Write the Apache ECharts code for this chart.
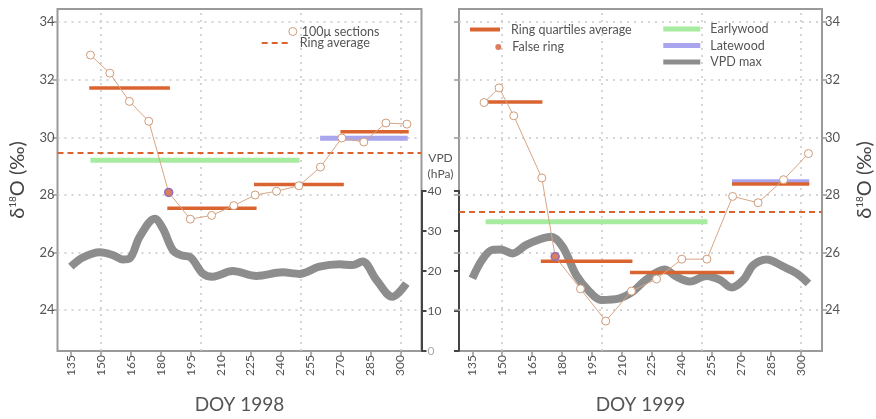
<!DOCTYPE html>
<html lang="en">
<head>
<meta charset="UTF-8">
<title>δ18O and VPD 1998-1999</title>
<script src="https://cdn.jsdelivr.net/npm/echarts@6.0.0/dist/echarts.min.js"></script>
<style>body{margin:0;background:#fff}</style>
</head>
<body>
<div id="main" style="width: 876px;height: 419px"></div>
<script type="text/javascript">
// 100u sections [DOY, d18O]
var sections98 = [[144.8,32.86],[154.5,32.23],[164.3,31.25],[174.0,30.56],[184.0,28.09],[194.8,27.16],[205.5,27.29],[216.6,27.63],
  [227.3,28.00],[238.0,28.13],[249.2,28.32],[260.0,28.97],[270.7,29.98],[281.7,29.84],[292.8,30.50],[303.3,30.46]];
var sections99 = [[140.9,31.21],[148.4,31.72],[155.8,30.75],[169.9,28.59],[176.6,25.86],[189.3,24.74],[202.0,23.62],[214.9,24.66],
  [227.5,25.08],[240.2,25.77],[252.8,25.77],[265.7,27.95],[278.5,27.73],[291.3,28.53],[303.8,29.44]];
var falseRing98 = [[184.0,28.09]];
var falseRing99 = [[176.6,25.86]];
var ringAvg98 = 29.45;
var ringAvg99 = 27.43;
// [from DOY, to DOY, value]
var quart98 = [[144.2,184.6,31.72],[183.3,228.0,27.54],[226.7,271.7,28.36],[270.0,304.2,30.20]];
var quart99 = [[141.2,170.2,31.23],[169.4,215.4,25.70],[214.2,266.5,25.31],[265.4,304.2,28.38]];
var early98 = [[144.8,249.5,29.21]];
var late98 = [[259.8,303.7,29.97]];
var early99 = [[141.7,253.1,27.07]];
var late99 = [[265.4,304.2,28.46]];
// VPD max [DOY, hPa]
var vpd98 = [[135,21.0],[141,23.3],[149.5,24.6],[156,23.9],[161,22.8],[164.5,23.1],[169.5,28.5],[177,33.0],[181,30.6],[186,25.2],
  [190,23.9],[195,23.3],[201,19.3],[206,18.5],[216,19.9],[228,18.7],[241,19.6],[249.5,19.2],[259.5,21.0],[269.5,21.6],[276,21.4],
  [281,22.3],[288,17.7],[296,13.5],[303,16.8]];
var vpd99 = [[135,18.1],[140,22.8],[145,25.2],[149.3,25.3],[155,24.3],[161.8,26.4],[168.5,27.8],[174.4,28.5],[180.2,26.0],[187,18.9],
  [193.6,14.8],[199.5,12.7],[208.7,13.1],[215.4,14.8],[222.1,17.8],[231.3,20.3],[237.2,18.5],[243.9,17.3],[252.3,18.7],[259,17.7],
  [264.8,15.8],[270.7,17.7],[275.7,21.4],[282.4,22.8],[290.8,21.0],[297.5,19.3],[303.3,16.8]];
var doyTicks = [135,150,165,180,195,210,225,240,255,270,285,300];
var doyGrid = [150,200,250,300];
var d18Ticks = [24,26,28,30,32,34];

var ORANGE = '#da6430', GREEN = '#a6eba0', PURPLE = '#a9a5ee', GRAY = '#8d8d8d', TAN = '#d6a585';

var myChart = echarts.init(document.getElementById('main'));

function segSeries(name, segs, gi, color, width, z) {
  return segs.map(function (s) {
    return {
      name: name, type: 'line', xAxisIndex: gi, yAxisIndex: gi, z: z, symbol: 'none', silent: true,
      lineStyle: {color: color, width: width, cap: 'butt'}, itemStyle: {color: color},
      data: [[s[0], s[2]], [s[1], s[2]]]
    };
  });
}

function gridLines(gi) {
  var d = doyGrid.map(function (v) { return {xAxis: v}; })
    .concat(d18Ticks.map(function (v) { return {yAxis: v}; }));
  return {
    type: 'line', xAxisIndex: gi, yAxisIndex: gi, data: [], silent: true, z: 0,
    markLine: {
      z: 1, silent: true, symbol: ['none', 'none'], label: {show: false}, animation: false,
      lineStyle: {color: '#c8c8c8', width: 1.5, type: [2, 5]}, data: d
    }
  };
}

function panel(gi, vi, sections, falseRing, ringAvg, quart, early, late, vpd) {
  var s = [gridLines(gi),
    {
      name: 'VPD max', type: 'line', xAxisIndex: vi, yAxisIndex: vi, z: 2, smooth: 0.35, symbol: 'none', silent: true,
      lineStyle: {color: GRAY, width: 8}, itemStyle: {color: GRAY}, data: vpd
    }];
  s = s.concat(segSeries('Earlywood', early, gi, GREEN, 5, 3));
  s = s.concat(segSeries('Latewood', late, gi, PURPLE, 5, 3));
  s = s.concat(segSeries('Ring quartiles average', quart, gi, ORANGE, 3.5, 4));
  s.push({
    name: 'Ring average', type: 'line', xAxisIndex: gi, yAxisIndex: gi, data: [], symbol: 'none', z: 4,
    lineStyle: {color: ORANGE, width: 2, type: [6, 4]}, itemStyle: {color: ORANGE},
    markLine: {
      silent: true, symbol: ['none', 'none'], label: {show: false}, animation: false,
      lineStyle: {color: ORANGE, width: 2, type: [6, 4]}, data: [{yAxis: ringAvg}]
    }
  });
  s.push({
    name: '100μ sections', type: 'line', xAxisIndex: gi, yAxisIndex: gi, z: 5, symbol: 'circle', symbolSize: 8,
    lineStyle: {color: TAN, width: 1}, itemStyle: {color: '#fff', borderColor: '#cf9b78', borderWidth: 1},
    data: sections
  });
  s.push({
    name: 'False ring', type: 'scatter', xAxisIndex: gi, yAxisIndex: gi, z: 6, symbolSize: 8,
    itemStyle: {color: '#d25c3a', borderColor: '#7d6bd2', borderWidth: 1.5}, data: falseRing
  });
  return s;
}

function xAx(gi, name) {
  return {
    type: 'value', gridIndex: gi, min: 128.3, max: 310.6, name: name, nameLocation: 'middle', nameGap: 44,
    nameTextStyle: {fontSize: 19, color: '#555'},
    axisLine: {show: false}, splitLine: {show: false},
    axisTick: {customValues: doyTicks, length: 5, lineStyle: {color: '#999', width: 1.5}},
    axisLabel: {customValues: doyTicks, rotate: 90, fontSize: 12, color: '#555', margin: 4}
  };
}
function hiddenX(gi) {
  return {type: 'value', gridIndex: gi, min: 128.3, max: 310.6, show: false};
}
var d18Name = '{d|δ}{s|18}{o|O (‰)}';
var d18Rich = {
  d: {fontSize: 20, color: '#444'},
  s: {fontSize: 10, color: '#444', verticalAlign: 'top'},
  o: {fontSize: 20, color: '#444'}
};
function d18Ax(gi, pos, labels) {
  return {
    type: 'value', gridIndex: gi, min: 22.58, max: 34.46, position: pos,
    name: labels ? d18Name : '', nameLocation: 'middle', nameRotate: 90, nameGap: pos === 'left' ? 30 : 33,
    nameTextStyle: {rich: d18Rich},
    axisLine: {show: false}, splitLine: {show: false},
    axisTick: {customValues: d18Ticks, length: 5, lineStyle: {color: '#999', width: 1.5}},
    axisLabel: {show: labels, customValues: d18Ticks, fontSize: 13, color: '#555', margin: 3}
  };
}
function vpdAx(gi, pos, labels) {
  return {
    type: 'value', gridIndex: gi, min: 0, max: 40, interval: 10, position: pos,
    name: labels ? 'VPD\n(hPa)' : '', nameLocation: 'end', nameGap: 9,
    nameTextStyle: {fontSize: 12, color: '#555', lineHeight: 16, align: 'center', padding: [0, 0, 0, 38]},
    axisLine: {show: true, lineStyle: {color: '#444', width: 2}}, splitLine: {show: false},
    axisTick: {length: 5, lineStyle: {color: '#444', width: 2}},
    axisLabel: {show: labels, fontSize: 12, margin: 6,
      color: function (v) { return Number(v) === 0 ? '#aaa' : '#555'; }}
  };
}

// legend text gap after the icon is done with an empty rich token of fixed width
function leg(o, gap) {
  return Object.assign({
    selectedMode: false, orient: 'vertical', padding: 0,
    formatter: function (n) { return '{g|}' + n; },
    textStyle: {fontSize: 12.5, color: '#555', rich: {g: {width: gap}}}
  }, o);
}
var dashIcon = 'path://M0,0h6v2h-6z M10,0h6v2h-6z M20,0h6v2h-6z';

var option = {
  animation: false,
  textStyle: {fontFamily: 'Lato'},
  grid: [
    {left: 57.5, top: 9, width: 364, height: 347, show: true, borderColor: '#9a9a9a', borderWidth: 2, backgroundColor: 'transparent'},
    {left: 459, top: 9, width: 364, height: 347, show: true, borderColor: '#9a9a9a', borderWidth: 2, backgroundColor: 'transparent'},
    {left: 57.5, top: 190.7, width: 364, height: 160},
    {left: 459, top: 190.7, width: 364, height: 160}
  ],
  xAxis: [xAx(0, 'DOY 1998'), xAx(1, 'DOY 1999'), hiddenX(2), hiddenX(3)],
  yAxis: [d18Ax(0, 'left', true), d18Ax(1, 'right', true), vpdAx(2, 'right', true), vpdAx(3, 'left', false), d18Ax(1, 'left', false)],
  legend: [
    leg({left: 288.3, top: 25, itemWidth: 8, itemHeight: 8,
      data: [{name: '100μ sections', icon: 'circle', itemStyle: {color: '#fff', borderColor: '#cf9b78', borderWidth: 1}}]}, 0),
    leg({left: 261.7, top: 36.5, itemWidth: 26, itemHeight: 2,
      data: [{name: 'Ring average', icon: dashIcon}]}, 7),
    leg({left: 470, top: 23, itemWidth: 30, itemHeight: 4,
      data: [{name: 'Ring quartiles average', icon: 'rect'}]}, 6),
    leg({left: 495.3, top: 40.5, itemWidth: 6, itemHeight: 6,
      data: [{name: 'False ring', icon: 'circle', itemStyle: {borderWidth: 0}}]}, 6),
    leg({left: 663.3, top: 22.5, itemWidth: 37, itemHeight: 5, itemGap: 3.5,
      data: [{name: 'Earlywood', icon: 'rect'}, {name: 'Latewood', icon: 'rect'}, {name: 'VPD max', icon: 'rect'}]}, 5)
  ],
  series: panel(0, 2, sections98, falseRing98, ringAvg98, quart98, early98, late98, vpd98)
    .concat(panel(1, 3, sections99, falseRing99, ringAvg99, quart99, early99, late99, vpd99))
};
myChart.setOption(option);
</script>
</body>
</html>
